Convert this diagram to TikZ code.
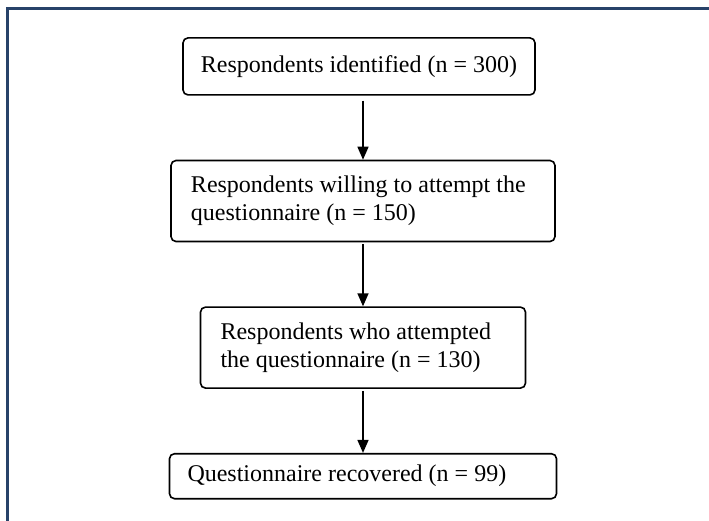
\documentclass[tikz,border=0pt]{standalone}
\usepackage{fontspec}
\setmainfont{Liberation Serif}
\usetikzlibrary{arrows.meta,positioning}
\definecolor{framenavy}{RGB}{40,66,105}

\begin{document}
\begin{tikzpicture}[
    x=0.5pt, y=-0.5pt,
    node distance=32pt,
    box/.style={rectangle, draw=black, rounded corners=2.5pt, line width=0.8pt, inner xsep=10pt, inner ysep=0pt, align=flush left, font=\fontsize{12}{13.8}\selectfont},
    arrow/.style={-{Triangle[length=6.5pt,width=5.5pt]}, line width=0.75pt, black},
]
\useasboundingbox (0,0) rectangle (709,521);
\draw[framenavy, line width=1.25pt] (7.5,521) -- (7.5,8.5) -- (709,8.5);
\node[box, align=center, inner xsep=8pt, minimum width=176pt, minimum height=28.5pt] (ident) at (359,66.4) {Respondents identified (n = 300)};
\node[box, text width=172pt, minimum height=40.5pt, below=of ident, xshift=2pt] (willing) {Respondents willing to attempt the\\questionnaire (n = 150)};
\node[box, text width=142.5pt, minimum height=40.5pt, below=of willing] (attempted) {Respondents who attempted\\the questionnaire (n = 130)};
\node[box, text width=175.5pt, minimum height=22.5pt, below=of attempted, inner xsep=9pt] (recovered) {Questionnaire recovered (n = 99)};
\draw[arrow, shorten <=2.5pt] (willing.north |- ident.south) -- (willing.north);
\draw[arrow, shorten <=1pt] (willing.south) -- (attempted.north);
\draw[arrow, shorten <=1pt] (attempted.south) -- (recovered.north);
\end{tikzpicture}
\end{document}
